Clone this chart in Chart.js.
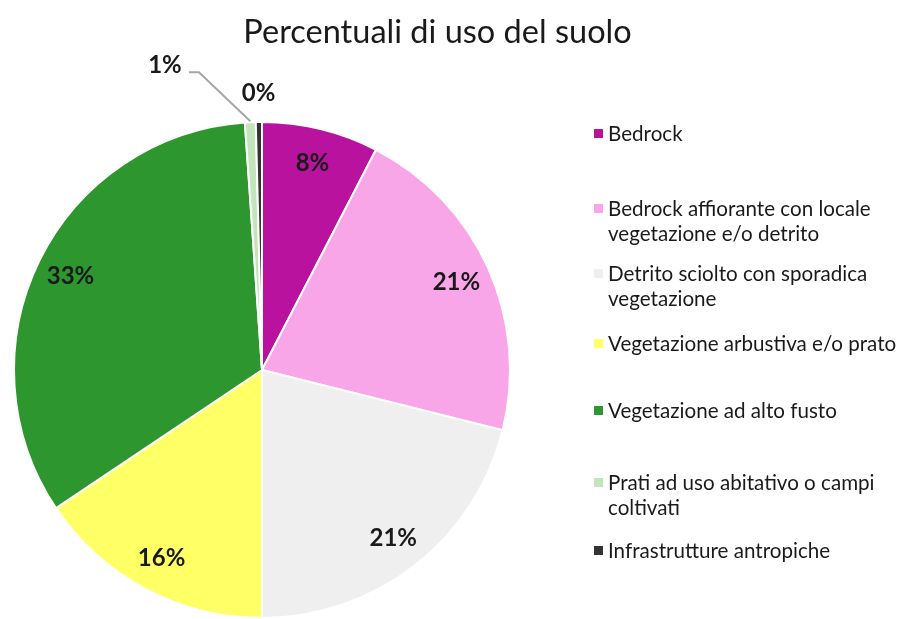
<!DOCTYPE html>
<html>
<head>
<meta charset="utf-8">
<script src="https://cdn.jsdelivr.net/npm/chart.js@4.4.0/dist/chart.umd.min.js"></script>
<style>
    html, body { margin: 0; padding: 0; background: #fff; overflow: hidden; }
    #wrap { position: relative; width: 903px; height: 619px; font-family: Lato, "Open Sans", sans-serif; color: #1a1a1a; }
    #pieChart { position: absolute; left: 0; top: 0; }
    .title { position: absolute; left: 0; width: 875px; top: 11px; text-align: center; font-size: 32.5px; }
    .legend { position: absolute; left: 594px; top: 0; }
    .legend-item { position: absolute; left: 0; width: 300px; font-size: 20.6px; line-height: 25px; padding-left: 14px; white-space: nowrap; }
    .legend-item .box { position: absolute; left: 0; top: 8px; width: 9px; height: 9px; }
</style>
</head>
<body>
<div id="wrap">
    <canvas id="pieChart" width="903" height="619"></canvas>
    <div class="title">Percentuali di uso del suolo</div>
    <div class="legend" id="legend"></div>
</div>
<script>
// Chart data
const categories = [
    'Bedrock',
    'Bedrock affiorante con locale vegetazione e/o detrito',
    'Detrito sciolto con sporadica vegetazione',
    'Vegetazione arbustiva e/o prato',
    'Vegetazione ad alto fusto',
    'Prati ad uso abitativo o campi coltivati',
    'Infrastrutture antropiche'
];
// legend text split in lines as in the picture
const legendLines = [
    ['Bedrock'],
    ['Bedrock affiorante con locale', 'vegetazione e/o detrito'],
    ['Detrito sciolto con sporadica', 'vegetazione'],
    ['Vegetazione arbustiva e/o prato'],
    ['Vegetazione ad alto fusto'],
    ['Prati ad uso abitativo o campi', 'coltivati'],
    ['Infrastrutture antropiche']
];
const percentages = [7.6, 21.3, 21.1, 15.6, 33.3, 0.7, 0.4];
const sliceColors = ['#B8129F', '#F9A6E8', '#EFEFEF', '#FFFF66', '#2E962E', '#C3E5BC', '#333333'];
const legendTops = [121, 196, 261, 331, 398, 470, 538];

// Percent labels drawn on/near each slice
const sliceLabels = {
    id: 'sliceLabels',
    afterDatasetsDraw(chart) {
        const ctx = chart.ctx;
        const meta = chart.getDatasetMeta(0);
        const data = chart.data.datasets[0].data;
        const total = data.reduce((a, b) => a + b, 0);
        const placed = [];
        ctx.save();
        ctx.font = 'bold 24px Lato, "Open Sans", sans-serif';
        ctx.fillStyle = '#1a1a1a';
        ctx.textAlign = 'center';
        ctx.textBaseline = 'middle';
        // go backwards so the last small slices keep their natural place
        for (let i = meta.data.length - 1; i >= 0; i--) {
            const p = meta.data[i].getProps(['x', 'y', 'startAngle', 'endAngle', 'outerRadius']);
            const mid = (p.startAngle + p.endAngle) / 2;
            const text = Math.round(data[i] / total * 100) + '%';
            const small = data[i] / total < 0.02;
            const r = small ? p.outerRadius + 29 : p.outerRadius * 0.86;
            let x = p.x + Math.cos(mid) * r;
            let y = p.y + Math.sin(mid) * r;
            if (small) {
                const clash = placed.some(q => Math.abs(q.x - x) < 40 && Math.abs(q.y - y) < 24);
                if (clash) {
                    x -= 84;
                    y -= 28;
                    const ex = p.x + Math.cos(mid) * p.outerRadius;
                    const ey = p.y + Math.sin(mid) * p.outerRadius;
                    ctx.strokeStyle = '#A6A6A6';
                    ctx.lineWidth = 2;
                    ctx.beginPath();
                    ctx.moveTo(x + 24, y + 7);
                    ctx.lineTo(x + 34, y + 7);
                    ctx.lineTo(ex, ey - 1);
                    ctx.stroke();
                }
                placed.push({ x, y });
            }
            ctx.fillText(text, x, y);
        }
        ctx.restore();
    }
};

function initializeChart() {
    const ctx = document.getElementById('pieChart').getContext('2d');
    new Chart(ctx, {
        type: 'pie',
        data: {
            labels: categories,
            datasets: [{
                data: percentages,
                backgroundColor: sliceColors,
                borderColor: '#ffffff',
                borderWidth: 2
            }]
        },
        options: {
            responsive: false,
            animation: false,
            devicePixelRatio: 1,
            layout: {
                padding: { left: 13, top: 121, right: 392, bottom: 0 }
            },
            plugins: {
                legend: { display: false },
                tooltip: { enabled: false }
            }
        },
        plugins: [sliceLabels]
    });
}

function buildLegend() {
    const legend = document.getElementById('legend');
    legend.innerHTML = categories.map((c, i) => `
        <div class="legend-item" style="top:${legendTops[i]}px">
            <span class="box" style="background:${sliceColors[i]}"></span>
            ${legendLines[i].join('<br>')}
        </div>
    `).join('');
}

initializeChart();
buildLegend();
</script>
</body>
</html>
